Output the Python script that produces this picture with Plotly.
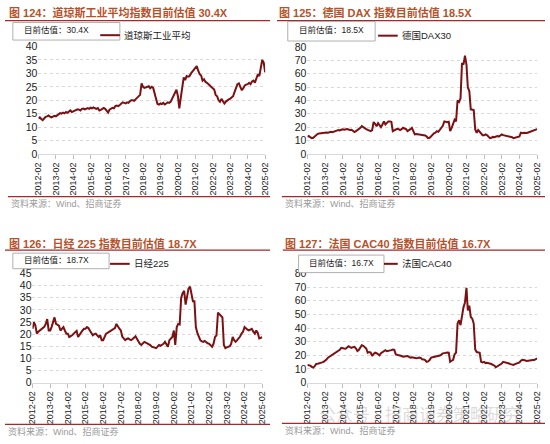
import pandas as pd
import plotly.graph_objects as go

# monthly valuation readings, 2012-02 .. 2025-02
dates = pd.date_range("2012-02-01", "2025-02-01", freq="MS")

dow_pe = [
    13.2, 13.6, 13.0, 12.6, 13.2, 13.8, 14.0, 14.3, 13.9, 13.6, 13.9, 14.2,
    14.0, 14.3, 14.8, 15.2, 15.0, 15.4, 15.1, 15.6, 15.3, 15.8, 16.2, 15.6,
    15.8, 16.0, 16.3, 16.6, 16.5, 16.2, 16.8, 16.9, 16.6, 17.0, 17.1, 16.8,
    17.2, 17.0, 17.3, 17.0, 16.8, 17.1, 16.2, 16.4, 16.9, 17.1, 16.8, 16.0,
    15.4, 16.5, 17.0, 17.2, 17.0, 17.8, 18.0, 17.8, 18.2, 18.6, 19.2, 19.0,
    18.8, 19.2, 19.0, 19.6, 20.0, 20.0, 19.8, 20.4, 21.0, 21.2, 22.0, 26.3,
    25.0, 24.6, 24.8, 24.8, 25.2, 24.5, 25.0, 24.6, 22.0, 20.5, 18.6, 18.4,
    18.8, 18.6, 19.0, 18.4, 18.8, 19.2, 19.0, 19.4, 20.5, 21.5, 23.0, 23.9,
    21.5, 17.0, 21.0, 24.5, 28.5, 27.5, 29.0, 28.8, 29.0, 30.0, 30.8, 31.5,
    32.0, 32.7, 31.0, 29.7, 29.2, 27.3, 27.8, 26.8, 26.5, 25.8, 25.5, 24.9,
    24.5, 24.0, 22.0, 21.5, 20.0, 19.4, 20.5, 19.5, 18.8, 19.5, 20.0, 20.3,
    20.6, 21.0, 21.5, 23.0, 24.5, 26.0, 26.3, 25.0, 23.7, 24.5, 25.5, 25.8,
    26.0, 26.5, 26.0, 27.0, 27.3, 26.5, 28.5, 29.7, 29.0, 32.0, 35.0, 34.0,
    30.4,
]

dax_pe = [
    12.7, 13.4, 12.5, 11.7, 12.0, 13.0, 14.5, 15.0, 15.2, 15.4, 15.8, 15.6,
    15.8, 16.0, 15.8, 16.3, 16.5, 16.2, 16.8, 17.0, 17.4, 17.8, 17.5, 18.0,
    18.3, 18.0, 18.3, 18.5, 18.2, 17.8, 18.0, 17.4, 16.3, 17.0, 17.8, 18.0,
    19.5, 20.7, 19.8, 18.7, 18.5, 18.0, 17.5, 17.0, 17.8, 23.8, 22.5, 20.7,
    23.0, 21.5, 20.0, 22.0, 24.3, 22.0, 23.0, 24.3, 24.3, 24.0, 17.0, 17.5,
    18.0, 18.7, 18.5, 17.8, 18.5, 19.5, 19.0, 18.5, 17.0, 17.5, 18.5, 19.5,
    16.3, 14.6, 14.8, 14.6, 14.5, 14.6, 14.2, 14.1, 13.8, 13.0, 11.7, 12.0,
    13.4, 14.0, 15.4, 15.8, 17.0, 16.5, 18.0, 20.0, 21.0, 24.3, 24.0, 23.6,
    24.0, 17.0, 19.5, 22.0, 25.5, 24.3, 40.0, 38.8, 41.3, 67.9, 66.7, 73.5,
    66.7, 49.7, 47.0, 33.3, 33.3, 32.8, 18.3, 15.8, 17.8, 16.5, 14.6, 14.0,
    13.9, 14.6, 14.0, 13.0, 11.7, 12.0, 12.7, 12.5, 13.0, 13.4, 13.0, 14.0,
    14.6, 14.0, 13.8, 13.4, 13.5, 13.0, 12.9, 12.5, 11.7, 11.9, 12.2, 12.7,
    13.0, 15.8, 15.5, 15.8, 15.4, 15.6, 16.0, 16.5, 17.0, 17.0, 17.5, 18.0,
    18.5,
]

nikkei_pe = [
    22.2, 24.9, 23.5, 20.2, 21.0, 21.5, 22.0, 22.2, 23.0, 24.2, 26.2, 21.5,
    21.5, 22.9, 24.5, 26.9, 24.2, 23.8, 23.5, 21.5, 22.0, 22.9, 21.5, 20.2,
    20.2, 18.8, 19.2, 19.5, 20.2, 20.8, 21.3, 18.8, 19.8, 20.9, 21.5, 22.2,
    22.2, 22.9, 22.5, 21.5, 20.5, 19.5, 20.0, 20.2, 19.5, 18.8, 19.5, 17.5,
    17.5, 19.0, 20.2, 20.5, 20.9, 21.2, 21.5, 22.0, 22.5, 24.2, 23.0, 22.2,
    21.5, 19.0, 18.2, 17.5, 18.0, 18.2, 17.8, 17.5, 18.0, 18.5, 19.1, 18.0,
    16.8, 16.0, 15.5, 16.2, 16.8, 16.5, 16.2, 15.8, 15.5, 14.8, 14.5, 14.5,
    14.2, 14.8, 15.5, 15.2, 15.5, 16.0, 16.8, 15.5, 14.8, 17.5, 18.0, 18.8,
    21.5, 15.5, 22.9, 24.2, 24.0, 34.9, 36.9, 37.9, 32.2, 35.6, 38.9, 39.6,
    37.0, 33.6, 33.6, 22.9, 20.5, 18.8, 17.5, 17.0, 16.8, 17.2, 16.5, 16.2,
    16.0, 15.5, 14.8, 16.0, 18.8, 19.5, 28.9, 28.2, 27.5, 26.9, 15.5, 14.2,
    14.5, 14.8, 15.0, 16.0, 18.8, 17.5, 16.8, 17.5, 18.2, 19.0, 20.2, 21.0,
    22.9, 22.2, 21.8, 21.5, 22.0, 22.2, 21.0, 20.2, 21.5, 20.5, 18.2, 18.5,
    18.7,
]

cac_pe = [
    12.9, 12.6, 12.4, 11.5, 11.0, 12.0, 13.6, 13.8, 14.0, 14.3, 14.8, 15.2,
    16.0, 16.8, 18.3, 19.0, 20.0, 20.5, 21.4, 21.8, 22.4, 23.0, 24.0, 25.5,
    25.5, 25.0, 24.8, 25.5, 26.7, 26.0, 25.5, 26.0, 26.2, 25.0, 23.1, 24.0,
    25.5, 27.4, 27.0, 26.2, 25.0, 21.9, 22.4, 22.0, 19.5, 21.0, 21.9, 21.5,
    20.7, 20.0, 21.5, 22.4, 23.0, 23.8, 23.0, 23.1, 23.5, 23.8, 24.3, 24.0,
    20.7, 20.5, 20.0, 19.8, 19.5, 19.0, 19.2, 19.5, 19.5, 18.8, 18.3, 18.5,
    18.3, 17.6, 17.8, 18.0, 18.3, 18.0, 17.1, 17.0, 16.5, 15.2, 15.5, 16.5,
    18.3, 18.5, 18.8, 19.0, 19.0, 19.5, 19.8, 20.5, 21.4, 21.6, 21.9, 22.0,
    21.9, 15.2, 16.0, 16.7, 20.7, 21.9, 43.3, 45.7, 42.1, 50.0, 55.2, 58.8,
    69.5, 52.9, 56.4, 48.1, 46.9, 43.3, 24.3, 22.4, 22.0, 21.9, 15.2, 14.8,
    15.2, 14.3, 14.5, 14.3, 13.6, 13.6, 13.0, 12.5, 11.2, 11.8, 12.9, 13.5,
    14.0, 15.2, 15.0, 14.8, 14.3, 14.0, 13.5, 13.2, 12.9, 13.5, 14.0, 14.8,
    14.8, 16.0, 16.7, 16.5, 16.0, 15.8, 16.0, 16.2, 16.7, 16.5, 16.5, 17.5,
    17.8,
]

titles = [
    "图 124：道琼斯工业平均指数目前估值 30.4X",
    "图 125：德国 DAX 指数目前估值 18.5X",
    "图 126：日经 225 指数目前估值 18.7X",
    "图 127：法国 CAC40 指数目前估值 16.7X",
]
series_names = ["道琼斯工业平均", "德国DAX30", "日经225", "法国CAC40"]
current_labels = ["目前估值：30.4X", "目前估值：18.5X", "目前估值：18.7X", "目前估值：16.7X"]
y_max = [40, 80, 45, 80]
y_step = [5, 10, 5, 10]
source_text = "资料来源：Wind、招商证券"

W, H = 550, 444
LINE = "#7b1113"
TITLE_C = "#b5522c"
RULE_C = "#a8272a"
FONT = "Liberation Sans, Noto Sans CJK SC, sans-serif"


def px(x):
    return x / W


def py(y):
    return 1 - y / H


# pixel layout of each panel
panels = [
    dict(x0=34, x1=265, y0=152, y1=41.7, title_x=2, title_y=7, rule=(0, 270, 15),
         foot=(3, 270, 196), box=(8, 117, 17, 35), leg=(97, 117, 30)),
    dict(x0=308, x1=542, y0=152, y1=42, title_x=277, title_y=7, rule=(277, 550, 15),
         foot=(282, 550, 196), box=(288, 377, 16, 36), leg=(380, 400, 30.5)),
    dict(x0=28, x1=262, y0=387, y1=275, title_x=2, title_y=244, rule=(0, 270, 251),
         foot=(0, 270, 430), box=(8, 106, 254, 270), leg=(107, 127, 265)),
    dict(x0=308, x1=542, y0=387, y1=275, title_x=283, title_y=244, rule=(283, 550, 251),
         foot=(282, 550, 429), box=(299, 386, 256, 274), leg=(386, 400, 265)),
]

all_values = [dow_pe, dax_pe, nikkei_pe, cac_pe]

fig = go.Figure()
shapes = []
annotations = []

for i, p in enumerate(panels):
    n = i + 1
    xa = "x" if n == 1 else f"x{n}"
    ya = "y" if n == 1 else f"y{n}"
    fig.add_trace(
        go.Scatter(
            x=dates, y=all_values[i], mode="lines",
            line=dict(color=LINE, width=2), xaxis=xa, yaxis=ya,
            showlegend=False, hoverinfo="skip",
        )
    )
    fig.update_layout(**{
        ("xaxis" if n == 1 else f"xaxis{n}"): dict(
            domain=[px(p["x0"]), px(p["x1"])], anchor=ya, type="date",
            range=["2012-02-01", "2025-02-01"],
            tick0="2012-02-01", dtick="M12", tickformat="%Y-%m", tickangle=-90,
            ticks="outside", ticklen=4, tickcolor="#bfbfbf",
            showline=True, linecolor="#d9d9d9", linewidth=1,
            showgrid=False, zeroline=False,
            tickfont=dict(size=9, color="#222", family=FONT),
        ),
        ("yaxis" if n == 1 else f"yaxis{n}"): dict(
            domain=[py(p["y0"]), py(p["y1"])], anchor=xa,
            range=[0, y_max[i]], dtick=y_step[i],
            showgrid=True, gridcolor="#d9d9d9", griddash="dot", gridwidth=1,
            zeroline=False, showline=False, ticks="",
            tickfont=dict(size=10.5, color="#222", family=FONT),
        ),
    })

    # title and rules
    annotations.append(dict(
        text=f"<b>{titles[i]}</b>", x=px(p["title_x"]), y=py(p["title_y"]),
        xref="paper", yref="paper", xanchor="left", yanchor="middle",
        showarrow=False, font=dict(size=11, color=TITLE_C, family=FONT),
    ))
    rx0, rx1, ry = p["rule"]
    shapes.append(dict(type="line", xref="paper", yref="paper",
                       x0=px(rx0), x1=px(rx1), y0=py(ry), y1=py(ry),
                       line=dict(color=RULE_C, width=1.2)))
    fx0, fx1, fy = p["foot"]
    shapes.append(dict(type="line", xref="paper", yref="paper",
                       x0=px(fx0), x1=px(fx1), y0=py(fy), y1=py(fy),
                       line=dict(color=RULE_C, width=1.2)))
    annotations.append(dict(
        text=source_text, x=px(fx0 + 1), y=py(fy + 7),
        xref="paper", yref="paper", xanchor="left", yanchor="middle",
        showarrow=False, font=dict(size=9, color="#9a9a9a", family=FONT),
    ))

    # legend box with current value
    bx0, bx1, by0, by1 = p["box"]
    shapes.append(dict(type="rect", xref="paper", yref="paper",
                       x0=px(bx0), x1=px(bx1), y0=py(by1), y1=py(by0),
                       fillcolor="white", line=dict(color="#b0b0b0", width=1)))
    annotations.append(dict(
        text=current_labels[i], x=px(bx0 + 9), y=py((by0 + by1) / 2 - 1),
        xref="paper", yref="paper", xanchor="left", yanchor="middle",
        showarrow=False, font=dict(size=8.5, color="#222", family=FONT),
    ))
    lx0, lx1, ly = p["leg"]
    shapes.append(dict(type="line", xref="paper", yref="paper",
                       x0=px(lx0), x1=px(lx1), y0=py(ly), y1=py(ly),
                       line=dict(color=LINE, width=2)))
    annotations.append(dict(
        text=series_names[i], x=px(lx1 + 2), y=py(ly),
        xref="paper", yref="paper", xanchor="left", yanchor="middle",
        showarrow=False, font=dict(size=9.5, color="#222", family=FONT),
    ))

# faint watermark in the last panel
annotations.append(dict(
    text="公众号 · 招商证券策略研究", x=px(318), y=py(421),
    xref="paper", yref="paper", xanchor="left", yanchor="middle",
    showarrow=False, font=dict(size=17, color="rgba(150,150,150,0.35)", family=FONT),
))

fig.update_layout(
    width=W, height=H,
    margin=dict(l=0, r=0, t=0, b=0),
    paper_bgcolor="white", plot_bgcolor="white",
    shapes=shapes, annotations=annotations,
    font=dict(family=FONT),
)

# page body has a default 8px margin; drop it so the figure sits at 0,0
fig.write_html(
    "out.html",
    config={"displayModeBar": False},
    post_script="document.body.style.margin='0';",
)
